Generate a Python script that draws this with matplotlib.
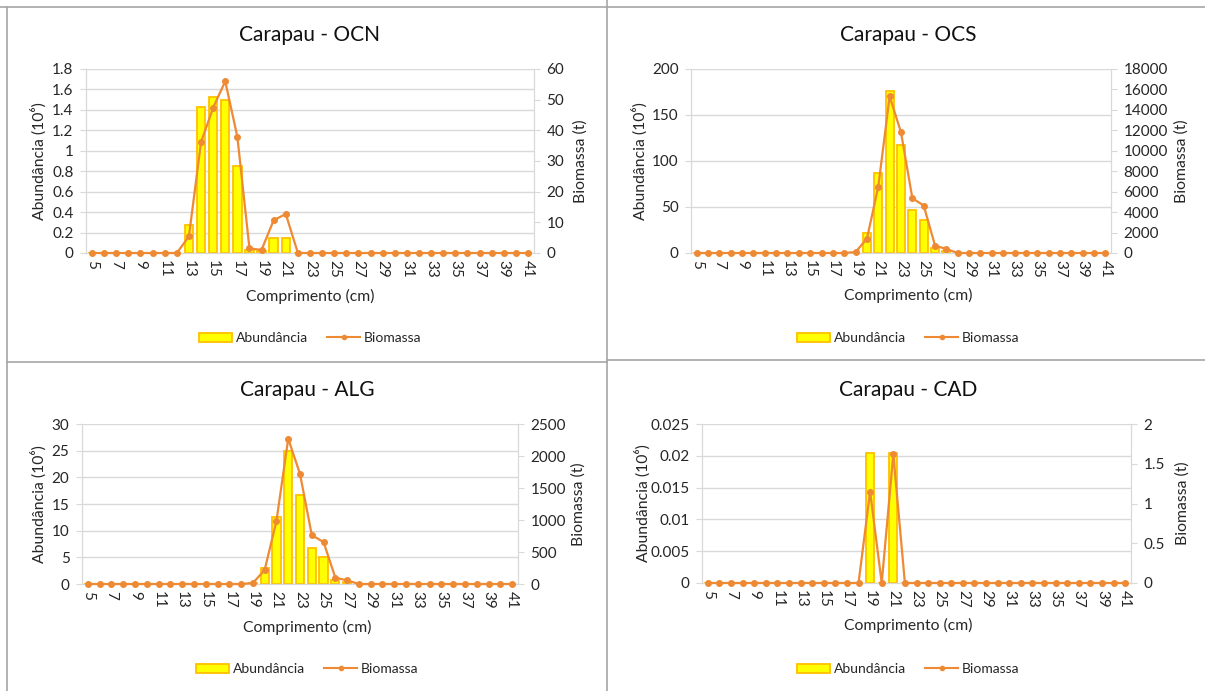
import matplotlib
matplotlib.use('Agg')
import matplotlib.pyplot as plt
from matplotlib.lines import Line2D
from matplotlib.patches import Patch
from matplotlib.ticker import FuncFormatter, MultipleLocator

plt.rcParams['font.family'] = ['Lato', 'DejaVu Sans']

# length classes (cm)
lengths = list(range(5, 42))
tick_lengths = list(range(5, 42, 2))

# abundance (10^6) and biomass (t) per length class, 5..41 cm
ocn_abund = [0, 0, 0, 0, 0, 0, 0, 0, 0.27, 1.43, 1.53, 1.50, 0.85, 0.03, 0.015, 0.15, 0.15,
             0, 0, 0, 0, 0, 0, 0, 0, 0, 0, 0, 0, 0, 0, 0, 0, 0, 0, 0, 0]
ocn_biom = [0, 0, 0, 0, 0, 0, 0, 0, 5.4, 36.1, 47.4, 56.0, 37.9, 1.5, 1.0, 10.7, 12.7,
            0, 0, 0, 0, 0, 0, 0, 0, 0, 0, 0, 0, 0, 0, 0, 0, 0, 0, 0, 0]

ocs_abund = [0, 0, 0, 0, 0, 0, 0, 0, 0, 0, 0, 0, 0, 0, 0.3, 21.8, 87.1, 176.5, 117.6, 47.2,
             36.0, 5.0, 2.5, 0, 0, 0, 0, 0, 0, 0, 0, 0, 0, 0, 0, 0, 0]
ocs_biom = [0, 0, 0, 0, 0, 0, 0, 0, 0, 0, 0, 0, 0, 0, 100, 1400, 6500, 15330, 11800, 5360,
            4640, 720, 390, 0, 0, 0, 0, 0, 0, 0, 0, 0, 0, 0, 0, 0, 0]

alg_abund = [0, 0, 0, 0, 0, 0, 0, 0, 0, 0, 0, 0, 0, 0, 0.1, 3.05, 12.5, 25.0, 16.6, 6.7,
             5.05, 0.7, 0.3, 0, 0, 0, 0, 0, 0, 0, 0, 0, 0, 0, 0, 0, 0]
alg_biom = [0, 0, 0, 0, 0, 0, 0, 0, 0, 0, 0, 0, 0, 0, 15, 218, 982, 2271, 1720, 764,
            655, 99, 57, 0, 0, 0, 0, 0, 0, 0, 0, 0, 0, 0, 0, 0, 0]

cad_abund = [0, 0, 0, 0, 0, 0, 0, 0, 0, 0, 0, 0, 0, 0, 0.0204, 0, 0.0204, 0, 0, 0,
             0, 0, 0, 0, 0, 0, 0, 0, 0, 0, 0, 0, 0, 0, 0, 0, 0]
cad_biom = [0, 0, 0, 0, 0, 0, 0, 0, 0, 0, 0, 0, 0, 0, 1.15, 0, 1.62, 0, 0, 0,
            0, 0, 0, 0, 0, 0, 0, 0, 0, 0, 0, 0, 0, 0, 0, 0, 0]

W, H = 1205, 691
BAR_FACE = '#FFFF00'
BAR_EDGE = '#FFC000'
LINE_COL = '#ED8A33'
GRID_COL = '#D9D9D9'
TEXT_COL = '#262626'


def fx(x):
    return x / W


def fy(y):
    return 1 - y / H


def fmt(v, pos):
    return f'{v:g}'


def panel(rect, title, abund, biom, ylim1, step1, ylim2, step2, labels):
    l, t, r, b = rect
    ax = fig.add_axes([fx(l), fy(b), fx(r - l), (b - t) / H])
    ax2 = ax.twinx()

    ax.bar(lengths, abund, width=0.7, color=BAR_FACE, edgecolor=BAR_EDGE, linewidth=1.3, zorder=2)
    ax2.plot(lengths, biom, color=LINE_COL, lw=1.6, marker='o', ms=4, clip_on=False, zorder=3)

    ax.set_xlim(4.5, 41.5)
    ax.set_ylim(0, ylim1)
    ax2.set_ylim(0, ylim2)
    ax.yaxis.set_major_locator(MultipleLocator(step1))
    ax2.yaxis.set_major_locator(MultipleLocator(step2))
    ax.yaxis.set_major_formatter(FuncFormatter(fmt))
    ax2.yaxis.set_major_formatter(FuncFormatter(fmt))
    ax.set_xticks(tick_lengths)
    ax.set_xticklabels([str(v) for v in tick_lengths], rotation=-90)
    ax.grid(axis='y', color=GRID_COL, lw=1, zorder=0)
    ax.set_axisbelow(True)

    for a in (ax, ax2):
        a.spines['top'].set_visible(False)
        for s in ('left', 'right', 'bottom'):
            a.spines[s].set_color(GRID_COL)
        a.tick_params(axis='y', length=4, color=GRID_COL, labelsize=11, labelcolor=TEXT_COL, pad=5)
    ax.tick_params(axis='x', length=0, labelsize=11, labelcolor=TEXT_COL, pad=5)

    cx, ylab_l, ylab_r, xlab_y, title_y, leg_y = labels
    fig.text(fx(cx), fy(title_y), title, ha='center', va='center', fontsize=15, color='#111111')
    fig.text(fx(ylab_l), fy((t + b) / 2), 'Abundância (10⁶)', rotation=90, ha='center', va='center',
             fontsize=11.3, color=TEXT_COL)
    fig.text(fx(ylab_r), fy((t + b) / 2), 'Biomassa (t)', rotation=90, ha='center', va='center',
             fontsize=11.3, color=TEXT_COL)
    fig.text(fx(cx), fy(xlab_y), 'Comprimento (cm)', ha='center', va='center', fontsize=11.3, color=TEXT_COL)

    handles = [Patch(facecolor=BAR_FACE, edgecolor=BAR_EDGE, linewidth=1.3),
               Line2D([], [], color=LINE_COL, lw=1.5, marker='o', ms=3)]
    fig.legend(handles, ['Abundância', 'Biomassa'], loc='center', bbox_to_anchor=(fx(cx), fy(leg_y)),
               ncol=2, frameon=False, fontsize=10, handlelength=2.4, handleheight=0.6,
               handletextpad=0.25, columnspacing=1.4, labelcolor=TEXT_COL)


fig = plt.figure(figsize=(W / 100, H / 100), dpi=100)

panel((86, 69, 534, 253), 'Carapau - OCN', ocn_abund, ocn_biom, 1.8, 0.2, 60, 10,
      (310, 39, 581, 296, 35, 338))
panel((691, 69, 1111, 253), 'Carapau - OCS', ocs_abund, ocs_biom, 200, 50, 18000, 2000,
      (908, 640, 1182, 295, 35, 338))
panel((82, 424, 518, 584), 'Carapau - ALG', alg_abund, alg_biom, 30, 5, 2500, 500,
      (307, 39, 579, 627, 390, 669))
panel((702, 424, 1131, 583), 'Carapau - CAD', cad_abund, cad_biom, 0.025, 0.005, 2, 0.5,
      (908, 643, 1183, 625, 390, 669))

# chart frames
frame = dict(color='#A6A6A6', lw=1.2)
fig.add_artist(Line2D([0, 1], [fy(7), fy(7)], **frame))
fig.add_artist(Line2D([fx(6.5), fx(6.5)], [fy(7), 0], **frame))
fig.add_artist(Line2D([fx(607), fx(607)], [1, 0], **frame))
fig.add_artist(Line2D([fx(6.5), fx(607)], [fy(361.5), fy(361.5)], **frame))
fig.add_artist(Line2D([fx(607), 1], [fy(360), fy(360)], **frame))

fig.savefig('out.png', dpi=100)
